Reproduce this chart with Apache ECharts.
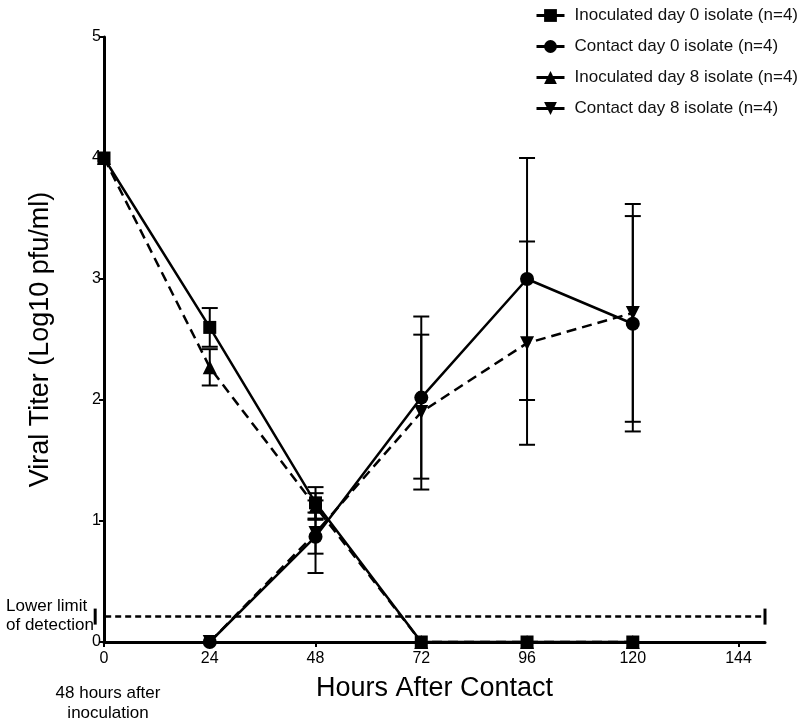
<!DOCTYPE html>
<html>
<head>
<meta charset="utf-8">
<script src="https://cdn.jsdelivr.net/npm/echarts@6/dist/echarts.min.js"></script>
<style>
  html, body { margin: 0; padding: 0; background: #fff; }
  #chart { width: 800px; height: 724px; }
</style>
</head>
<body>
<div id="chart"></div>
<script>
  var hours = [0, 24, 48, 72, 96, 120]
  var xTicks = [0, 24, 48, 72, 96, 120, 144]

  // means and SD (Log10 pfu/ml)
  var inocDay0 = [4.0, 2.6, 1.15, 0, 0, 0]
  var inocDay0Sd = [0, 0.16, 0.13, 0, 0, 0]
  var contactDay0 = [null, 0, 0.87, 2.02, 3.0, 2.63]
  var contactDay0Sd = [0, 0, 0.3, 0.67, 1.0, 0.89]
  var inocDay8 = [4.0, 2.27, 1.12, 0, 0, 0]
  var inocDay8Sd = [0, 0.15, 0.11, 0, 0, 0]
  var contactDay8 = [null, 0, 0.9, 1.9, 2.47, 2.72]
  var contactDay8Sd = [0, 0, 0.17, 0.64, 0.84, 0.9]

  var lowerLimit = 0.21
  var lowerLimitRange = [-2, 150]

  var names = [
    'Inoculated day 0 isolate (n=4)',
    'Contact day 0 isolate (n=4)',
    'Inoculated day 8 isolate (n=4)',
    'Contact day 8 isolate (n=4)'
  ]

  var font = 'Liberation Sans, Arial, sans-serif'

  function points (means) {
    var out = []
    for (var i = 0; i < hours.length; i++) {
      if (means[i] != null) out.push([hours[i], means[i]])
    }
    return out
  }

  function errorData (means, sds) {
    var out = []
    for (var i = 0; i < hours.length; i++) {
      if (means[i] == null || !sds[i]) continue
      out.push([hours[i], means[i] - sds[i], means[i] + sds[i]])
    }
    return out
  }

  function renderErrorBar (params, api) {
    var x = api.value(0)
    var lo = api.coord([x, api.value(1)])
    var hi = api.coord([x, api.value(2)])
    var w = 8
    var style = {stroke: '#000', lineWidth: 2}
    return {
      type: 'group',
      children: [
        {type: 'line', shape: {x1: hi[0], y1: hi[1], x2: lo[0], y2: lo[1]}, style: style},
        {type: 'line', shape: {x1: hi[0] - w, y1: hi[1], x2: hi[0] + w, y2: hi[1]}, style: style},
        {type: 'line', shape: {x1: lo[0] - w, y1: lo[1], x2: lo[0] + w, y2: lo[1]}, style: style}
      ]
    }
  }

  function lineSeries (name, means, symbol, dashed, rotate) {
    return {
      name: name,
      type: 'line',
      data: points(means),
      symbol: symbol,
      symbolSize: symbol === 'rect' ? 13 : 14,
      symbolRotate: rotate || 0,
      showAllSymbol: true,
      clip: false,
      itemStyle: {color: '#000'},
      lineStyle: {color: '#000', width: 2.5, type: dashed ? [10, 6] : 'solid'},
      z: 3
    }
  }

  function errorSeries (means, sds) {
    return {
      type: 'custom',
      renderItem: renderErrorBar,
      encode: {x: 0, y: [1, 2]},
      data: errorData(means, sds),
      clip: false,
      silent: true,
      z: 2
    }
  }

  var chart = echarts.init(document.getElementById('chart'))

  var option = {
    animation: false,
    backgroundColor: '#fff',
    textStyle: {fontFamily: font, color: '#000'},
    grid: {left: 104, right: 35, top: 37, bottom: 82},
    legend: {
      data: names,
      orient: 'vertical',
      left: 530,
      top: 2,
      itemWidth: 28,
      itemHeight: 16,
      itemGap: 14,
      lineStyle: {type: 'solid', width: 3},
      textStyle: {fontSize: 17, color: '#111', padding: [0, 0, 0, 5]}
    },
    xAxis: {
      type: 'value',
      min: 0,
      max: 150,
      interval: 24,
      name: 'Hours After Contact',
      nameLocation: 'middle',
      nameGap: 33,
      nameTextStyle: {fontSize: 27, color: '#000'},
      axisLine: {lineStyle: {color: '#000', width: 3}},
      axisTick: {show: true, length: 5, lineStyle: {width: 2}, customValues: xTicks},
      axisLabel: {fontSize: 16, color: '#000', margin: 9, customValues: xTicks},
      splitLine: {show: false}
    },
    yAxis: {
      type: 'value',
      min: 0,
      max: 5,
      interval: 1,
      name: 'Viral Titer (Log10 pfu/ml)',
      nameLocation: 'middle',
      nameGap: 50,
      nameTextStyle: {fontSize: 27, color: '#000'},
      axisLine: {show: true, lineStyle: {color: '#000', width: 3}},
      axisTick: {show: true, length: 5, lineStyle: {width: 2}},
      axisLabel: {fontSize: 16, color: '#000', margin: 3},
      splitLine: {show: false}
    },
    graphic: [
      {
        type: 'text',
        left: 6,
        top: 597,
        style: {text: 'Lower limit\nof detection', fontSize: 17, lineHeight: 19, fill: '#000', fontFamily: font}
      },
      {
        type: 'text',
        x: 108,
        y: 683,
        style: {text: '48 hours after\ninoculation', fontSize: 17, lineHeight: 20, align: 'center', fill: '#000', fontFamily: font}
      }
    ],
    series: [
      {
        type: 'line',
        data: [[lowerLimitRange[0], lowerLimit], [lowerLimitRange[1], lowerLimit]],
        symbol: 'rect',
        symbolSize: [3, 16],
        clip: false,
        silent: true,
        itemStyle: {color: '#000'},
        lineStyle: {color: '#000', width: 2.5, type: [6, 4]},
        z: 1
      },
      errorSeries(inocDay0, inocDay0Sd),
      errorSeries(contactDay0, contactDay0Sd),
      errorSeries(inocDay8, inocDay8Sd),
      errorSeries(contactDay8, contactDay8Sd),
      lineSeries(names[0], inocDay0, 'rect', false),
      lineSeries(names[1], contactDay0, 'circle', false),
      lineSeries(names[2], inocDay8, 'triangle', true),
      lineSeries(names[3], contactDay8, 'triangle', true, 180)
    ]
  }

  chart.setOption(option)
</script>
</body>
</html>
